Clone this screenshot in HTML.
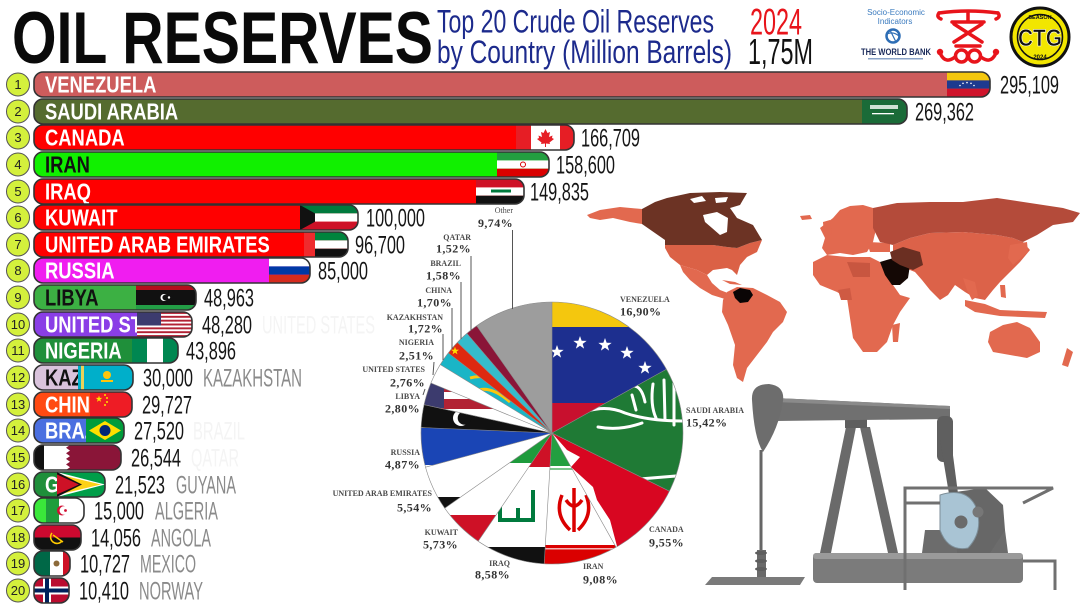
<!DOCTYPE html>
<html><head><meta charset="utf-8"><style>
html,body{margin:0;padding:0;background:#fff;}
svg{display:block;}
.bl{font:bold 23px "Liberation Sans",sans-serif;fill:#fff;}
.bk{fill:#111;}
.v{font:25px "Liberation Sans",sans-serif;fill:#151515;}
.gn{font:25px "Liberation Sans",sans-serif;fill:#8a8a8a;}
.fn{font:25px "Liberation Sans",sans-serif;fill:#f4f4f4;}
.rk{font:13px "Liberation Sans",sans-serif;fill:#222;text-anchor:middle;}
.pn{font:bold 8px "Liberation Serif",serif;fill:#4a4a4a;}
.pp{font:bold 12px "Liberation Serif",serif;fill:#333;letter-spacing:.4px;}
.e{text-anchor:end;}
</style></head><body>
<svg width="1084" height="609" viewBox="0 0 1084 609" xmlns="http://www.w3.org/2000/svg">
<defs>
<path id="st" d="M0,-7 L1.65,-2.27 L6.66,-2.16 L2.66,0.87 L4.11,5.66 L0,2.8 L-4.11,5.66 L-2.66,0.87 L-6.66,-2.16 L-1.65,-2.27Z"/>
<clipPath id="b1"><rect x="34" y="72" width="956" height="25" rx="9"/></clipPath>
<clipPath id="b2"><rect x="34" y="99" width="873" height="25" rx="9"/></clipPath>
<clipPath id="b3"><rect x="34" y="125" width="540" height="25" rx="9"/></clipPath>
<clipPath id="b4"><rect x="34" y="152" width="515" height="25" rx="9"/></clipPath>
<clipPath id="b5"><rect x="34" y="179" width="490" height="25" rx="9"/></clipPath>
<clipPath id="b6"><rect x="34" y="205" width="324" height="25" rx="9"/></clipPath>
<clipPath id="b7"><rect x="34" y="232" width="314" height="25" rx="9"/></clipPath>
<clipPath id="b8"><rect x="34" y="258" width="276" height="25" rx="9"/></clipPath>
<clipPath id="b9"><rect x="34" y="285" width="162" height="25" rx="9"/></clipPath>
<clipPath id="b10"><rect x="34" y="312" width="158" height="25" rx="9"/></clipPath>
<clipPath id="b11"><rect x="34" y="338" width="144" height="25" rx="9"/></clipPath>
<clipPath id="b12"><rect x="34" y="365" width="99" height="25" rx="9"/></clipPath>
<clipPath id="b13"><rect x="34" y="392" width="98" height="25" rx="9"/></clipPath>
<clipPath id="b14"><rect x="34" y="418" width="90" height="25" rx="9"/></clipPath>
<clipPath id="b15"><rect x="34" y="445" width="87" height="25" rx="9"/></clipPath>
<clipPath id="b16"><rect x="34" y="472" width="71" height="25" rx="9"/></clipPath>
<clipPath id="b17"><rect x="34" y="498" width="50" height="25" rx="9"/></clipPath>
<clipPath id="b18"><rect x="34" y="525" width="47" height="25" rx="9"/></clipPath>
<clipPath id="b19"><rect x="34" y="551" width="36" height="25" rx="9"/></clipPath>
<clipPath id="b20"><rect x="34" y="578" width="35" height="25" rx="9"/></clipPath>

<clipPath id="pV"><path d="M552,433 L552,302 A131,131 0 0 1 666.4,369.2 Z"/></clipPath>
<clipPath id="pS"><path d="M552,433 L666.4,369.2 A131,131 0 0 1 669.4,491.2 Z"/></clipPath>
<clipPath id="pC"><path d="M552,433 L669.4,491.2 A131,131 0 0 1 616.1,547.3 Z"/></clipPath>
<clipPath id="pIr"><path d="M552,433 L616.1,547.3 A131,131 0 0 1 544.2,563.8 Z"/></clipPath>
<clipPath id="pIq"><path d="M552,433 L544.2,563.8 A131,131 0 0 1 478.2,541.2 Z"/></clipPath>
<clipPath id="pK"><path d="M552,433 L478.2,541.2 A131,131 0 0 1 444.7,508.2 Z"/></clipPath>
<clipPath id="pU"><path d="M552,433 L444.7,508.2 A131,131 0 0 1 425.5,467.2 Z"/></clipPath>
<clipPath id="pR"><path d="M552,433 L425.5,467.2 A131,131 0 0 1 421.1,427.5 Z"/></clipPath>
<clipPath id="pL"><path d="M552,433 L421.1,427.5 A131,131 0 0 1 424.1,404.7 Z"/></clipPath>
<clipPath id="pUS"><path d="M552,433 L424.1,404.7 A131,131 0 0 1 430.9,383.0 Z"/></clipPath>
<clipPath id="pKz"><path d="M552,433 L440.3,364.6 A131,131 0 0 1 448.3,353.0 Z"/></clipPath>
</defs>

<!-- TITLE -->
<text x="12" y="63" textLength="421" lengthAdjust="spacingAndGlyphs" style="font:bold 73px 'Liberation Sans',sans-serif" fill="#0a0a0a">OIL RESERVES</text>
<text x="437" y="32.5" textLength="277" lengthAdjust="spacingAndGlyphs" style="font:32px 'Liberation Sans',sans-serif" fill="#1c2a8c">Top 20 Crude Oil Reserves</text>
<text x="437" y="63" textLength="295" lengthAdjust="spacingAndGlyphs" style="font:32px 'Liberation Sans',sans-serif" fill="#1c2a8c">by Country (Million Barrels)</text>
<text x="750" y="34.5" textLength="52" lengthAdjust="spacingAndGlyphs" style="font:37px 'Liberation Sans',sans-serif" fill="#e8141b">2024</text>
<text x="748" y="64" textLength="65" lengthAdjust="spacingAndGlyphs" style="font:36px 'Liberation Sans',sans-serif" fill="#111">1,75M</text>

<!-- World bank logo -->
<text x="896" y="15" text-anchor="middle" style="font:8px 'Liberation Sans',sans-serif" fill="#3b7bbf">Socio-Economic</text>
<text x="895" y="24" text-anchor="middle" style="font:8px 'Liberation Sans',sans-serif" fill="#3b7bbf">Indicators</text>
<circle cx="893" cy="36" r="6.5" fill="none" stroke="#2d6db5" stroke-width="2.5"/>
<path d="M887,34 Q893,31 899,36 M890,30 L896,42" stroke="#2d6db5" stroke-width="1.2" fill="none"/>
<text x="896" y="55" text-anchor="middle" textLength="70" lengthAdjust="spacingAndGlyphs" style="font:bold 9px 'Liberation Sans',sans-serif" fill="#1a2a5a">THE WORLD BANK</text>
<rect x="868" y="58" width="55" height="1.5" fill="#8aa3c8"/>

<!-- red symbol -->
<g fill="none" stroke="#e8141b" stroke-width="3.5" stroke-linecap="round">
<path d="M939,13 Q968,9 998,13"/>
<path d="M939,13 q-3,4 2,6 M998,13 q3,4 -2,6"/>
<path d="M968,13 L968,21"/>
<path d="M952,22 L984,22"/>
<path d="M954,24 L982,42 M982,24 L954,42"/>
<path d="M956,46 L980,46"/>
<circle cx="961.5" cy="56" r="6"/>
<circle cx="974.5" cy="56" r="6"/>
<path d="M955,57 Q946,64 941,55 M981,57 Q990,64 995,55"/>
</g>
<circle cx="940" cy="52" r="3.2" fill="#e8141b"/><circle cx="996" cy="52" r="3.2" fill="#e8141b"/>

<!-- CTG -->
<circle cx="1040" cy="37" r="29" fill="#f2e600" stroke="#111" stroke-width="3"/>
<circle cx="1040" cy="37" r="22.5" fill="none" stroke="#111" stroke-width="1.5"/>
<text x="1040" y="19" text-anchor="middle" style="font:bold 5.5px 'Liberation Sans',sans-serif" fill="#111">SEASON</text>
<text x="1040" y="46" text-anchor="middle" textLength="44" lengthAdjust="spacingAndGlyphs" style="font:bold 24px 'Liberation Sans',sans-serif" fill="#111" stroke="#fff" stroke-width=".6">CTG</text>
<text x="1040" y="59" text-anchor="middle" style="font:bold 6px 'Liberation Sans',sans-serif" fill="#111">2024</text>

<!-- RANK CIRCLES -->
<g fill="#d4f03c" stroke="#555" stroke-width="1">
<circle cx="18" cy="84.5" r="11.5"/><circle cx="18" cy="111.5" r="11.5"/><circle cx="18" cy="137.5" r="11.5"/><circle cx="18" cy="164.5" r="11.5"/><circle cx="18" cy="191.5" r="11.5"/>
<circle cx="18" cy="217.5" r="11.5"/><circle cx="18" cy="244.5" r="11.5"/><circle cx="18" cy="270.5" r="11.5"/><circle cx="18" cy="297.5" r="11.5"/><circle cx="18" cy="324.5" r="11.5"/>
<circle cx="18" cy="350.5" r="11.5"/><circle cx="18" cy="377.5" r="11.5"/><circle cx="18" cy="404.5" r="11.5"/><circle cx="18" cy="430.5" r="11.5"/><circle cx="18" cy="457.5" r="11.5"/>
<circle cx="18" cy="484.5" r="11.5"/><circle cx="18" cy="510.5" r="11.5"/><circle cx="18" cy="537.5" r="11.5"/><circle cx="18" cy="563.5" r="11.5"/><circle cx="18" cy="590.5" r="11.5"/>
</g>
<text class="rk" x="18" y="89">1</text><text class="rk" x="18" y="116">2</text><text class="rk" x="18" y="142">3</text><text class="rk" x="18" y="169">4</text><text class="rk" x="18" y="196">5</text>
<text class="rk" x="18" y="222">6</text><text class="rk" x="18" y="249">7</text><text class="rk" x="18" y="275">8</text><text class="rk" x="18" y="302">9</text><text class="rk" x="18" y="329">10</text>
<text class="rk" x="18" y="355">11</text><text class="rk" x="18" y="382">12</text><text class="rk" x="18" y="409">13</text><text class="rk" x="18" y="435">14</text><text class="rk" x="18" y="462">15</text>
<text class="rk" x="18" y="489">16</text><text class="rk" x="18" y="515">17</text><text class="rk" x="18" y="542">18</text><text class="rk" x="18" y="568">19</text><text class="rk" x="18" y="595">20</text>

<!-- BARS -->
<g clip-path="url(#b1)">
<rect x="34" y="72" width="956" height="25" fill="#cd5c5c"/>
<text class="bl" transform="translate(45 92.5) scale(.8 1)">VENEZUELA</text>
<rect x="947" y="72" width="43" height="8.4" fill="#f4c70e"/><rect x="947" y="80.4" width="43" height="8.3" fill="#1d3a8f"/><rect x="947" y="88.7" width="43" height="8.3" fill="#cf142b"/>
<g fill="#fff"><circle cx="960" cy="85.5" r=".8"/><circle cx="963" cy="83.3" r=".8"/><circle cx="967" cy="82.6" r=".8"/><circle cx="971" cy="83.3" r=".8"/><circle cx="974" cy="85.5" r=".8"/></g>
</g>
<g clip-path="url(#b2)">
<rect x="34" y="99" width="873" height="25" fill="#556b2f"/>
<text class="bl" transform="translate(45 119.5) scale(.8 1)">SAUDI ARABIA</text>
<rect x="862" y="99" width="45" height="25" fill="#1a6b38"/><rect x="870" y="105" width="28" height="4" fill="#cfe2d4"/><rect x="872" y="113" width="22" height="1.3" fill="#fff"/>
</g>
<g clip-path="url(#b3)">
<rect x="34" y="125" width="540" height="25" fill="#ff0000"/>
<text class="bl" transform="translate(45 145.5) scale(.8 1)">CANADA</text>
<rect x="516" y="125" width="15" height="25" fill="#e61e25"/><rect x="531" y="125" width="29" height="25" fill="#fff"/><rect x="560" y="125" width="14" height="25" fill="#e61e25"/>
<path d="M545.5,129 L547.5,133 L550,132 L549,137 L552.5,135.5 L552,138 L554,139 L549.5,142.5 L550,144 L546,143.5 L546,147 L545,147 L545,143.5 L541,144 L541.5,142.5 L537,139 L539,138 L538.5,135.5 L542,137 L541,132 L543.5,133 Z" fill="#e61e25"/>
</g>
<g clip-path="url(#b4)">
<rect x="34" y="152" width="515" height="25" fill="#11f000"/>
<text class="bl bk" transform="translate(45 172.5) scale(.8 1)">IRAN</text>
<rect x="497" y="152" width="52" height="8.4" fill="#239f40"/><rect x="497" y="160.4" width="52" height="8.3" fill="#fff"/><rect x="497" y="168.7" width="52" height="8.3" fill="#da0000"/>
<circle cx="523" cy="164.5" r="2.5" fill="none" stroke="#da0000" stroke-width="1"/>
</g>
<g clip-path="url(#b5)">
<rect x="34" y="179" width="490" height="25" fill="#ff0000"/>
<text class="bl" transform="translate(45 199.5) scale(.8 1)">IRAQ</text>
<rect x="476" y="179" width="48" height="8.4" fill="#ce1126"/><rect x="476" y="187.4" width="48" height="8.3" fill="#fff"/><rect x="476" y="195.7" width="48" height="8.3" fill="#111"/>
<rect x="491" y="189.5" width="20" height="3" fill="#007a3d"/>
</g>
<g clip-path="url(#b6)">
<rect x="34" y="205" width="324" height="25" fill="#ff0000"/>
<text class="bl" transform="translate(45 225.5) scale(.8 1)">KUWAIT</text>
<rect x="300" y="205" width="58" height="8.4" fill="#007a3d"/><rect x="300" y="213.4" width="58" height="8.3" fill="#fff"/><rect x="300" y="221.7" width="58" height="8.3" fill="#ce1126"/>
<polygon points="300,205 315,213.4 315,221.7 300,230" fill="#111"/>
</g>
<g clip-path="url(#b7)">
<rect x="34" y="232" width="314" height="25" fill="#ff0000"/>
<text class="bl" transform="translate(45 252.5) scale(.8 1)">UNITED ARAB EMIRATES</text>
<rect x="304" y="232" width="11" height="25" fill="#ef2b2d"/>
<rect x="315" y="232" width="33" height="8.4" fill="#00843d"/><rect x="315" y="240.4" width="33" height="8.3" fill="#fff"/><rect x="315" y="248.7" width="33" height="8.3" fill="#111"/>
</g>
<g clip-path="url(#b8)">
<rect x="34" y="258" width="276" height="25" fill="#f01df0"/>
<text class="bl" transform="translate(45 278.5) scale(.8 1)">RUSSIA</text>
<rect x="269" y="258" width="41" height="8.4" fill="#fff"/><rect x="269" y="266.4" width="41" height="8.3" fill="#0039a6"/><rect x="269" y="274.7" width="41" height="8.3" fill="#d52b1e"/>
</g>
<g clip-path="url(#b9)">
<rect x="34" y="285" width="162" height="25" fill="#3cb043"/>
<text class="bl bk" transform="translate(45 305.5) scale(.8 1)">LIBYA</text>
<rect x="136" y="285" width="60" height="5" fill="#b3101d"/><rect x="136" y="290" width="60" height="15" fill="#111"/><rect x="136" y="305" width="60" height="5" fill="#239e46"/>
<circle cx="164" cy="297.5" r="3.5" fill="#fff"/><circle cx="165.3" cy="297.5" r="2.9" fill="#111"/><circle cx="169" cy="297.5" r="1.2" fill="#fff"/>
</g>
<g clip-path="url(#b10)">
<rect x="34" y="312" width="158" height="25" fill="#8a3ee6"/>
<text class="bl" transform="translate(45 332.5) scale(.8 1)">UNITED STATES</text>
<rect x="137" y="312" width="55" height="25" fill="#fff"/>
<g fill="#b22234"><rect x="137" y="312" width="55" height="1.92"/><rect x="137" y="315.85" width="55" height="1.92"/><rect x="137" y="319.7" width="55" height="1.92"/><rect x="137" y="323.54" width="55" height="1.92"/><rect x="137" y="327.39" width="55" height="1.92"/><rect x="137" y="331.23" width="55" height="1.92"/><rect x="137" y="335.08" width="55" height="1.92"/></g>
<rect x="137" y="312" width="24" height="13.5" fill="#3c3b6e"/>
</g>
<g clip-path="url(#b11)">
<rect x="34" y="338" width="144" height="25" fill="#1f8f3a"/>
<text class="bl" transform="translate(45 358.5) scale(.8 1)">NIGERIA</text>
<rect x="132" y="338" width="15" height="25" fill="#008751"/><rect x="147" y="338" width="16" height="25" fill="#fff"/><rect x="163" y="338" width="15" height="25" fill="#008751"/>
</g>
<g clip-path="url(#b12)">
<rect x="34" y="365" width="99" height="25" fill="#d9c3dc"/>
<text class="bl bk" transform="translate(45 385.5) scale(.8 1)">KAZAKHSTAN</text>
<rect x="78" y="365" width="55" height="25" fill="#00afca"/><rect x="81" y="365" width="3" height="25" fill="#e8d25a"/>
<circle cx="107" cy="375" r="4" fill="#fec50c"/><rect x="101" y="380" width="12" height="2" fill="#fec50c"/>
</g>
<g clip-path="url(#b13)">
<rect x="34" y="392" width="98" height="25" fill="#ff4a12"/>
<text class="bl" transform="translate(45 412.5) scale(.8 1)">CHINA</text>
<rect x="90" y="392" width="42" height="25" fill="#ee1c25"/>
<use href="#st" transform="translate(99 399) scale(.5)" fill="#ffde00"/>
<g fill="#ffde00"><circle cx="105" cy="395" r="1"/><circle cx="107" cy="398" r="1"/><circle cx="107" cy="402" r="1"/><circle cx="105" cy="405" r="1"/></g>
</g>
<g clip-path="url(#b14)">
<rect x="34" y="418" width="90" height="25" fill="#4a6fe0"/>
<text class="bl" transform="translate(45 438.5) scale(.8 1)">BRAZIL</text>
<rect x="86" y="418" width="38" height="25" fill="#009c3b"/>
<polygon points="89,430.5 105,421 121,430.5 105,440" fill="#fedf00"/>
<circle cx="105" cy="430.5" r="5.5" fill="#002776"/>
</g>
<g clip-path="url(#b15)">
<rect x="34" y="445" width="87" height="25" fill="#111"/>
<rect x="44" y="445" width="26" height="25" fill="#fff"/>
<polygon points="70,445 66,447.8 70,450.6 66,453.3 70,456.1 66,458.9 70,461.7 66,464.4 70,467.2 66,470 125,470 125,445" fill="#8a1538"/>
</g>
<g clip-path="url(#b16)">
<rect x="34" y="472" width="71" height="25" fill="#1f8f3a"/>
<text class="bl" transform="translate(45 492.5) scale(.8 1)">GUYANA</text>
<rect x="57" y="472" width="48" height="25" fill="#009e49"/>
<polygon points="57,472 105,484.5 57,497" fill="#fff"/>
<polygon points="57,474 101,484.5 57,495" fill="#fcd116"/>
<polygon points="57,472 82,484.5 57,497" fill="#111"/>
<polygon points="57,474.5 79,484.5 57,494.5" fill="#ce1126"/>
</g>
<g clip-path="url(#b17)">
<rect x="34" y="498" width="50" height="25" fill="#3ae83a"/>
<rect x="46" y="498" width="13" height="25" fill="#1f9e3c"/><rect x="59" y="498" width="25" height="25" fill="#fff"/>
<circle cx="62" cy="510.5" r="5" fill="#d21034"/><circle cx="63.8" cy="510.5" r="4.2" fill="#fff"/><circle cx="65.5" cy="510.5" r="1.4" fill="#d21034"/>
</g>
<g clip-path="url(#b18)">
<rect x="34" y="525" width="47" height="12.5" fill="#cc092f"/><rect x="34" y="537.5" width="47" height="12.5" fill="#111"/>
<path d="M52,533 A6,6 0 1 0 62,541" stroke="#ffcb00" stroke-width="1.6" fill="none"/><path d="M53,535 L63,542" stroke="#ffcb00" stroke-width="1.5"/>
</g>
<g clip-path="url(#b19)">
<rect x="34" y="551" width="16" height="25" fill="#006847"/><rect x="50" y="551" width="13" height="25" fill="#fff"/><rect x="63" y="551" width="7" height="25" fill="#ce1126"/>
<circle cx="56.5" cy="563.5" r="3" fill="#8c6a3a"/>
</g>
<g clip-path="url(#b20)">
<rect x="34" y="578" width="35" height="25" fill="#ba0c2f"/>
<rect x="43" y="578" width="8" height="25" fill="#fff"/><rect x="34" y="586.5" width="35" height="8" fill="#fff"/>
<rect x="45" y="578" width="4" height="25" fill="#00205b"/><rect x="34" y="588.5" width="35" height="4" fill="#00205b"/>
</g>
<g fill="none" stroke="#333" stroke-width="1.6">
<rect x="34" y="72" width="956" height="25" rx="9"/><rect x="34" y="99" width="873" height="25" rx="9"/><rect x="34" y="125" width="540" height="25" rx="9"/><rect x="34" y="152" width="515" height="25" rx="9"/><rect x="34" y="179" width="490" height="25" rx="9"/>
<rect x="34" y="205" width="324" height="25" rx="9"/><rect x="34" y="232" width="314" height="25" rx="9"/><rect x="34" y="258" width="276" height="25" rx="9"/><rect x="34" y="285" width="162" height="25" rx="9"/><rect x="34" y="312" width="158" height="25" rx="9"/>
<rect x="34" y="338" width="144" height="25" rx="9"/><rect x="34" y="365" width="99" height="25" rx="9"/><rect x="34" y="392" width="98" height="25" rx="9"/><rect x="34" y="418" width="90" height="25" rx="9"/><rect x="34" y="445" width="87" height="25" rx="9"/>
<rect x="34" y="472" width="71" height="25" rx="9"/><rect x="34" y="498" width="50" height="25" rx="9"/><rect x="34" y="525" width="47" height="25" rx="9"/><rect x="34" y="551" width="36" height="25" rx="9"/><rect x="34" y="578" width="35" height="25" rx="9"/>
</g>

<!-- VALUES -->
<text class="v" x="1000" y="93.5" textLength="59" lengthAdjust="spacingAndGlyphs">295,109</text>
<text class="v" x="915" y="120.5" textLength="59" lengthAdjust="spacingAndGlyphs">269,362</text>
<text class="v" x="581" y="146.5" textLength="59" lengthAdjust="spacingAndGlyphs">166,709</text>
<text class="v" x="556" y="173.5" textLength="59" lengthAdjust="spacingAndGlyphs">158,600</text>
<text class="v" x="530" y="200.5" textLength="59" lengthAdjust="spacingAndGlyphs">149,835</text>
<text class="v" x="366" y="226.5" textLength="59" lengthAdjust="spacingAndGlyphs">100,000</text>
<text class="v" x="355" y="253.5" textLength="50" lengthAdjust="spacingAndGlyphs">96,700</text>
<text class="v" x="318" y="279.5" textLength="50" lengthAdjust="spacingAndGlyphs">85,000</text>
<text class="v" x="204" y="306.5" textLength="50" lengthAdjust="spacingAndGlyphs">48,963</text>
<text class="v" x="202" y="333.5" textLength="50" lengthAdjust="spacingAndGlyphs">48,280</text>
<text class="v" x="186" y="359.5" textLength="50" lengthAdjust="spacingAndGlyphs">43,896</text>
<text class="v" x="143" y="386.5" textLength="50" lengthAdjust="spacingAndGlyphs">30,000</text>
<text class="v" x="142" y="413.5" textLength="50" lengthAdjust="spacingAndGlyphs">29,727</text>
<text class="v" x="134" y="439.5" textLength="50" lengthAdjust="spacingAndGlyphs">27,520</text>
<text class="v" x="131" y="466.5" textLength="50" lengthAdjust="spacingAndGlyphs">26,544</text>
<text class="v" x="115" y="493.5" textLength="50" lengthAdjust="spacingAndGlyphs">21,523</text>
<text class="v" x="94" y="519.5" textLength="50" lengthAdjust="spacingAndGlyphs">15,000</text>
<text class="v" x="91" y="546.5" textLength="50" lengthAdjust="spacingAndGlyphs">14,056</text>
<text class="v" x="80" y="572.5" textLength="50" lengthAdjust="spacingAndGlyphs">10,727</text>
<text class="v" x="79" y="599.5" textLength="50" lengthAdjust="spacingAndGlyphs">10,410</text>

<text class="fn" x="262" y="333.5" textLength="113" lengthAdjust="spacingAndGlyphs">UNITED STATES</text>
<text class="fn" x="193" y="439.5" textLength="52" lengthAdjust="spacingAndGlyphs">BRAZIL</text>
<text class="fn" x="191" y="466.5" textLength="48" lengthAdjust="spacingAndGlyphs">QATAR</text>
<text class="gn" x="203" y="386.5" textLength="99" lengthAdjust="spacingAndGlyphs">KAZAKHSTAN</text>
<text class="gn" x="176" y="493.5" textLength="60" lengthAdjust="spacingAndGlyphs">GUYANA</text>
<text class="gn" x="155" y="519.5" textLength="63" lengthAdjust="spacingAndGlyphs">ALGERIA</text>
<text class="gn" x="151" y="546.5" textLength="60" lengthAdjust="spacingAndGlyphs">ANGOLA</text>
<text class="gn" x="140" y="572.5" textLength="56" lengthAdjust="spacingAndGlyphs">MEXICO</text>
<text class="gn" x="139" y="599.5" textLength="64" lengthAdjust="spacingAndGlyphs">NORWAY</text>

<!-- MAP -->
<g fill="#e2694f">
<polygon points="587,215 600,210 620,207 642,209 642,224 630,222 613,218 600,220 590,218"/>
<polygon points="665,240 713,245 727,247 737,248 750,243 762,240 757,252 747,257 740,265 737,275 732,270 727,268 713,270 707,275 697,270 680,265 670,257 665,248" fill="#db6146"/>
<polygon points="680,265 697,270 707,275 712,283 720,290 733,295 740,302 735,304 725,299 712,295 700,288 690,280 683,272"/>
<polygon points="722,280 735,282 742,285 730,284"/>
<polygon points="727,292 737,287 753,288 767,295 780,302 787,312 783,322 773,332 767,342 757,355 747,368 743,382 737,378 733,365 735,345 728,325 722,312 723,300"/>
<polygon points="820,228 833,218 840,210 850,206 863,205 873,208 877,225 873,242 867,252 853,255 840,253 827,255 822,248 825,238"/>
<polygon points="823,222 830,220 832,234 824,236"/>
<polygon points="800,216 810,215 812,219 802,220"/>
<polygon points="893,245 910,238 930,233 963,232 997,235 1013,238 1023,242 1030,250 1020,262 1010,272 1000,282 993,290 985,300 975,298 965,292 955,285 948,295 940,300 930,290 922,280 915,272 905,268 895,262 893,252" fill="#dc6249"/>
<polygon points="963,278 975,282 978,296 972,300 967,290"/>
<polygon points="965,300 985,304 1000,310 1047,312 1045,318 1000,316 975,312 965,306"/>
<polygon points="1000,285 1005,285 1006,298 1001,297"/>
<polygon points="1010,245 1027,242 1028,252 1013,265 1008,258"/>
<polygon points="867,242 890,243 890,252 870,252"/>
<polygon points="813,262 827,255 847,257 870,257 880,262 893,285 900,295 910,298 900,312 893,325 887,342 877,352 863,352 853,338 850,318 847,298 837,292 820,285 813,275"/>
<polygon points="892,325 900,323 898,342 893,342"/>
<polygon points="990,332 1003,325 1017,322 1030,328 1040,342 1040,352 1027,358 1010,355 993,352 988,342"/>
<polygon points="1067,348 1073,352 1068,367 1062,365"/>
</g>
<polygon points="642,209 655,202 667,198 690,193 720,192 747,193 740,205 730,208 737,218 753,225 762,240 750,243 737,248 727,247 713,245 665,245 665,240 642,224" fill="#6c3324"/>
<polygon points="703,215 717,212 728,218 727,232 720,235 712,228 705,222" fill="#fff"/>
<polygon points="690,199 702,196 706,201 694,203" fill="#fff"/><polygon points="715,198 728,197 726,202 716,203" fill="#fff"/>
<polygon points="873,208 897,203 930,202 963,202 997,198 1030,203 1063,208 1080,213 1073,222 1053,225 1037,235 1023,242 1013,238 997,235 963,232 930,233 910,238 893,245 880,242 873,228" fill="#b44b3a"/>
<polygon points="733,292 740,288 750,290 753,295 748,302 740,303 735,298" fill="#0a0505"/>
<polygon points="880,262 897,257 910,265 908,278 900,285 892,285 885,275" fill="#140805"/>
<polygon points="890,252 903,247 920,252 923,265 913,270 900,265 892,260" fill="#6b2f22"/>
<polygon points="847,262 870,263 870,277 853,277" fill="#c85640"/>
<polygon points="838,290 850,288 852,300 841,300" fill="#cf5a43"/>

<!-- PUMP -->
<g>
<polygon points="705,585 712,577 805,577 800,585" fill="#7a7a7a"/>
<rect x="759.5" y="450" width="3" height="105" fill="#666"/>
<rect x="757" y="550" width="9" height="27" fill="#6a6a6a"/>
<ellipse cx="761" cy="553" rx="6" ry="2" fill="#5e5e5e"/><ellipse cx="761" cy="561" rx="6" ry="2" fill="#5e5e5e"/><ellipse cx="761" cy="569" rx="6" ry="2" fill="#5e5e5e"/>
<polygon points="846,427 856,427 831,553 820,553" fill="#6a6a6a"/>
<polygon points="860,427 870,427 898,553 888,553" fill="#6a6a6a"/>
<rect x="845" y="417" width="22" height="11" fill="#5e5e5e"/>
<polygon points="775,398 950,406 950,419 775,421" fill="#707070"/>
<polygon points="775,398 950,406 950,409 775,402" fill="#8a8a8a"/>
<path d="M752,400 Q751,384 769,384 Q785,386 783,401 Q779,428 763,452 Q754,438 752,400 Z" fill="#6d6d6d"/>
<rect x="937" y="416" width="16" height="46" rx="6" fill="#5f5f5f"/>
<polygon points="940,440 951,440 962,524 954,524" fill="#5f5f5f"/>
<polygon points="925,530 1005,530 1008,553 922,553" fill="#6c6c6c"/>
<polygon points="955,492 985,488 1003,505 1005,530 990,553 957,553" fill="#676767"/>
<path d="M940,495 Q965,487 975,505 Q985,530 968,548 Q948,552 940,530 Z" fill="#a9c4d4" stroke="#7d8e98" stroke-width="1"/>
<circle cx="961" cy="522" r="6.5" fill="#6a6a6a"/><circle cx="978" cy="512" r="5.5" fill="#777"/>
<rect x="813" y="553" width="210" height="30" rx="4" fill="#7b7b7b"/>
<rect x="813" y="553" width="210" height="6" rx="3" fill="#9a9a9a"/>
<path d="M905,590 L905,488 L1053,488 L1023,503 M905,503 L940,503 M1023,561 L1055,561 L1055,590" stroke="#707070" stroke-width="3" fill="none"/>
</g>

<!-- PIE -->
<g clip-path="url(#pV)"><rect x="540" y="298" width="140" height="29" fill="#f4c70e"/><rect x="540" y="327" width="140" height="76" fill="#1d2f8f"/><rect x="540" y="403" width="140" height="32" fill="#c8102e"/>
<g fill="#fff"><use href="#st" transform="translate(557 352)"/><use href="#st" transform="translate(580 343)"/><use href="#st" transform="translate(605 345)"/><use href="#st" transform="translate(627 353)"/><use href="#st" transform="translate(645 368)"/></g></g>
<g clip-path="url(#pS)"><rect x="540" y="360" width="150" height="140" fill="#1f7a35"/>
<g stroke="#fff" stroke-width="3" fill="none" stroke-linecap="round">
<path d="M674,378 L674,425"/><path d="M664,380 L665,420"/><path d="M653,384 Q650,405 656,418"/>
<path d="M572,418 Q600,402 625,413 Q648,421 682,421"/><path d="M590,398 Q600,382 615,394"/><path d="M624,390 Q640,378 645,402"/><path d="M598,427 Q620,431 642,423"/><path d="M632,395 L636,410"/>
<path d="M628,480 L676,476"/></g></g>
<g clip-path="url(#pC)"><rect x="540" y="420" width="150" height="150" fill="#d80621"/>
<polygon points="552,433 567,450 580,457 571,467 593,487 597,500 610,520 618,550 560,580 540,440" fill="#fff"/></g>
<g clip-path="url(#pIr)"><rect x="530" y="420" width="100" height="150" fill="#fff"/>
<rect x="530" y="420" width="100" height="46" fill="#239f40"/>
<rect x="530" y="468" width="100" height="2" fill="#239f40" opacity=".6"/>
<rect x="530" y="545" width="100" height="25" fill="#da0000"/>
<rect x="530" y="548" width="100" height="1.5" fill="#fff" opacity=".7"/>
<path d="M562,495 Q554,515 570,530 M586,495 Q594,515 578,530 M574,488 L574,532 M566,500 Q574,512 582,500" stroke="#da0000" stroke-width="3.5" fill="none"/></g>
<g clip-path="url(#pIq)"><rect x="470" y="425" width="90" height="150" fill="#fff"/>
<rect x="470" y="425" width="90" height="42" fill="#ce1126"/>
<rect x="470" y="547" width="90" height="25" fill="#111"/>
<path d="M533,490 L533,520 L500,520 L500,507 M518,508 L518,520" stroke="#007a3d" stroke-width="4" fill="none"/></g>
<g clip-path="url(#pK)"><rect x="440" y="425" width="120" height="125" fill="#fff"/>
<rect x="440" y="425" width="120" height="38" fill="#1e9b3c"/>
<rect x="440" y="515" width="120" height="30" fill="#ce1126"/></g>
<g clip-path="url(#pU)"><rect x="420" y="425" width="140" height="90" fill="#fff"/>
<rect x="420" y="497" width="45" height="14" fill="#111"/></g>
<g clip-path="url(#pR)"><rect x="418" y="420" width="140" height="50" fill="#fff"/><rect x="418" y="428" width="140" height="37" fill="#1a45b5"/></g>
<g clip-path="url(#pL)"><rect x="418" y="400" width="140" height="35" fill="#111"/>
<circle cx="461" cy="418" r="8" fill="#fff"/><circle cx="464.5" cy="418" r="6.8" fill="#111"/></g>
<g clip-path="url(#pUS)"><rect x="418" y="378" width="140" height="60" fill="#fff"/>
<rect x="418" y="399" width="140" height="10" fill="#b22234"/><rect x="418" y="387" width="140" height="5" fill="#b22234"/>
<rect x="418" y="380" width="26" height="28" fill="#3c3b6e"/></g>
<path d="M552,433 L430.9,383.0 A131,131 0 0 1 440.3,364.6 Z" fill="#fff"/>
<g clip-path="url(#pKz)"><rect x="435" y="345" width="120" height="90" fill="#1ab5c6"/>
<path d="M470,378 Q490,372 505,392 M478,390 Q492,386 510,402" stroke="#fec50c" stroke-width="3" fill="none"/></g>
<path d="M552,433 L448.3,353.0 A131,131 0 0 1 457.4,342.4 Z" fill="#de2910"/>
<use href="#st" transform="translate(455 351) scale(.6)" fill="#ffde00"/>
<path d="M552,433 L457.4,342.4 A131,131 0 0 1 466.9,333.4 Z" fill="#35bccc"/>
<path d="M552,433 L466.9,333.4 A131,131 0 0 1 476.7,325.8 Z" fill="#8a1538"/>
<path d="M552,433 L476.7,325.8 A131,131 0 0 1 552,302 Z" fill="#9d9d9d"/>
<g fill="none" stroke="#8a8a8a" stroke-width=".6">
<path d="M552,433 L552,302 M552,433 L666.4,369.2 M552,433 L669.4,491.2 M552,433 L616.1,547.3 M552,433 L544.2,563.8 M552,433 L478.2,541.2 M552,433 L444.7,508.2 M552,433 L425.5,467.2 M552,433 L421.1,427.5 M552,433 L424.1,404.7 M552,433 L430.9,383 M552,433 L440.3,364.6 M552,433 L448.3,353 M552,433 L457.4,342.4 M552,433 L466.9,333.4 M552,433 L476.7,325.8"/>
<circle cx="552" cy="433" r="131"/>
</g>

<!-- leader lines -->
<g stroke="#555" stroke-width="1" fill="none">
<path d="M512.5,230 L512.5,309 M471,256 L471,330 M461,282 L461,339 M452,308 L452,349 M443,334 L443,360 M434,362 L433,375 M425,389 L423,395"/>
</g>

<!-- pie labels -->
<text class="pn e" x="513" y="213" style="font-weight:normal">Other</text><text class="pp e" x="513" y="227">9,74%</text>
<text class="pn e" x="471" y="240">QATAR</text><text class="pp e" x="471" y="252.5">1,52%</text>
<text class="pn e" x="461" y="266">BRAZIL</text><text class="pp e" x="461" y="279.5">1,58%</text>
<text class="pn e" x="452" y="293">CHINA</text><text class="pp e" x="452" y="306.5">1,70%</text>
<text class="pn e" x="443" y="320">KAZAKHSTAN</text><text class="pp e" x="443" y="332.5">1,72%</text>
<text class="pn e" x="434" y="345">NIGERIA</text><text class="pp e" x="434" y="359.5">2,51%</text>
<text class="pn e" x="425" y="372">UNITED STATES</text><text class="pp e" x="425" y="386.5">2,76%</text>
<text class="pn e" x="420" y="399">LIBYA</text><text class="pp e" x="420" y="412.5">2,80%</text>
<text class="pn e" x="420" y="455">RUSSIA</text><text class="pp e" x="420" y="468.5">4,87%</text>
<text class="pn e" x="432" y="496">UNITED ARAB EMIRATES</text><text class="pp e" x="432" y="511.5">5,54%</text>
<text class="pn e" x="458" y="535">KUWAIT</text><text class="pp e" x="458" y="548.5">5,73%</text>
<text class="pn e" x="510" y="566">IRAQ</text><text class="pp e" x="510" y="578.5">8,58%</text>
<text class="pn" x="583" y="569">IRAN</text><text class="pp" x="583" y="583.5">9,08%</text>
<text class="pn" x="649" y="532">CANADA</text><text class="pp" x="649" y="546.5">9,55%</text>
<text class="pn" x="686" y="413">SAUDI ARABIA</text><text class="pp" x="686" y="426.5">15,42%</text>
<text class="pn" x="620" y="302">VENEZUELA</text><text class="pp" x="620" y="315.5">16,90%</text>
</svg>
</body></html>
